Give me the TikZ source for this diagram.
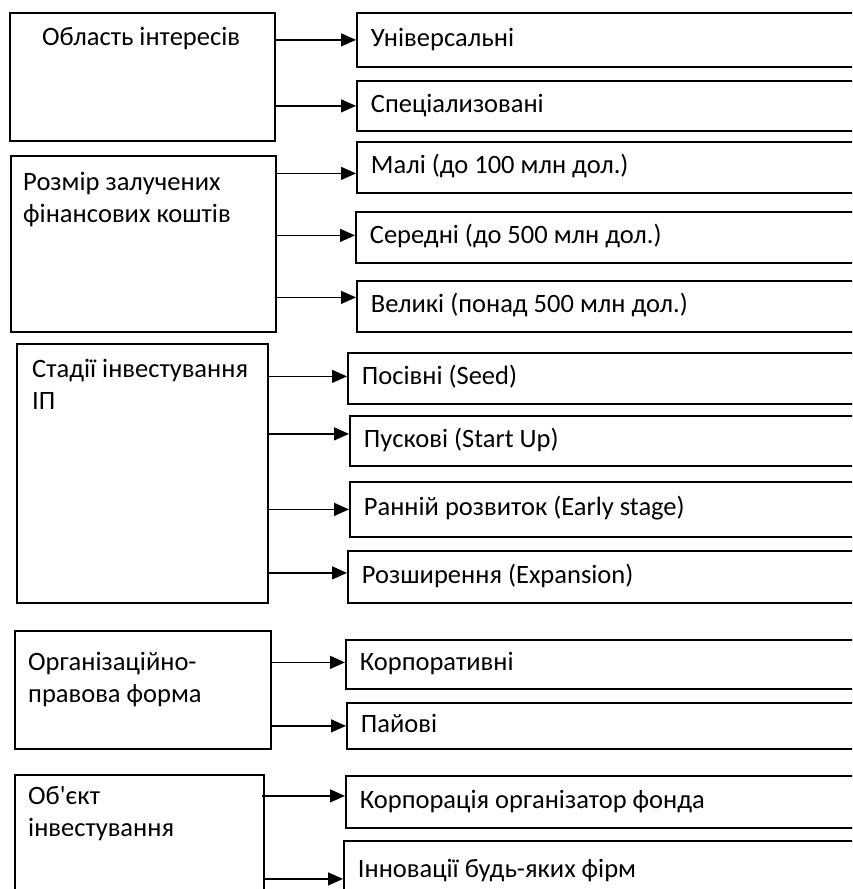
\documentclass[tikz,border=0pt]{standalone}
\usepackage{fontspec}
\setmainfont{Carlito}[Ligatures=TeXOff]
\usetikzlibrary{arrows.meta,positioning}

\tikzset{
  group/.style={draw,line width=1.8pt,anchor=north west,inner sep=0pt},
  grouptext/.style={anchor=base west,inner sep=0pt,align=flush left,font=\fontsize{26.5}{32}\selectfont},
  kind/.style={draw,line width=1.8pt,anchor=north west,text width=500pt,inner xsep=14pt,inner ysep=0pt,
    align=flush left,text height=18pt,text depth=5pt,font=\fontsize{26.5}{32}\selectfont},
  feed/.style={line width=1.2pt,-{Triangle[length=15pt,width=13pt]}},
}

\begin{document}
\begin{tikzpicture}[x=1pt,y=-1pt]
    \useasboundingbox (0,0) rectangle (852,889);
    \clip (0,0) rectangle (852,889);
    % область інтересів
    \node[group,minimum width=265,minimum height=128] (obl) at (9,12) {};
    \node[grouptext] (oblt) at (42,45) {Область інтересів};
    \node[kind,minimum height=54] (univ) at (356,12) {Універсальні};
    \node[kind,minimum height=50] (spec) at (356,80) {Спеціализовані};
    \draw[feed](obl.east |- univ.west)--(univ.west);
    \draw[feed](obl.east |- spec.west)--(spec.west);
    % розмір коштів
    \node[group,minimum width=265,minimum height=176] (rozm) at (10,155) {};
    \node[grouptext] (rozmt) at (23,222) {Розмір залучених\\фінансових коштів};
    \node[kind,minimum height=51] (mali) at (356,141) {Малі (до 100 млн дол.)};
    \node[kind,minimum height=51] (seri) at (355,211) {Середні (до 500 млн дол.)};
    \node[kind,minimum height=51] (vel) at (356,280) {Великі (понад 500 млн дол.)};
    \draw[feed]([yshift=-6pt]rozm.east |- mali.west)--([yshift=-6pt]mali.west);
    \draw[feed]([yshift=2pt]rozm.east |- seri.west)--([yshift=2pt]seri.west);
    \draw[feed]([yshift=9pt]rozm.east |- vel.west)--([yshift=9pt]vel.west);
    % стадії
    \node[group,minimum width=251,minimum height=259] (stad) at (16,343) {};
    \node[grouptext] (stadt) at (32,409) {Стадії інвестування\\ІП};
    \node[kind,minimum height=51] (seed) at (347,352) {Посівні (Seed)};
    \node[kind,minimum height=50] (start) at (349,415) {Пускові (Start Up)};
    \node[kind,minimum height=55] (early) at (349,481) {Ранній розвиток (Early stage)};
    \node[kind,minimum height=52] (expn) at (347,550) {Розширення (Expansion)};
    \draw[feed]([yshift=2pt]stad.east |- seed.west)--([yshift=2pt]seed.west);
    \draw[feed]([yshift=7pt]stad.east |- start.west)--([yshift=7pt]start.west);
    \draw[feed](stad.east |- early.west)--(early.west);
    \draw[feed]([yshift=4pt]stad.east |- expn.west)--([yshift=4pt]expn.west);
    % організаційно-правова форма
    \node[group,minimum width=256,minimum height=118] (orgf) at (14,630) {};
    \node[grouptext] (orgft) at (28,702) {Організаційно-\\правова форма};
    \node[kind,minimum height=49] (korp) at (345,639) {Корпоративні};
    \node[kind,minimum height=46] (pai) at (346,702) {Пайові};
    \draw[feed]([yshift=2pt]orgf.east |- korp.west)--([yshift=2pt]korp.west);
    \draw[feed](orgf.east |- pai.west)--(pai.west);
    % об'єкт
    \node[group,minimum width=249,minimum height=140] (obj) at (14,774) {};
    \node[grouptext] (objt) at (28,836) {Об'єкт\\інвестування};
    \node[kind,minimum height=52] (korg) at (345,775) {Корпорація організатор фонда};
    \node[kind,minimum height=60] (innov) at (343,840) {Інновації будь-яких фірм};
    \coordinate (objin) at ([xshift=-3pt]obj.east |- korg.west);
    \draw[feed]([yshift=6pt]objin)--([yshift=6pt]korg.west);
    \draw[feed]([yshift=-8pt]obj.east |- innov.west)--([yshift=-8pt]innov.west);
\end{tikzpicture}
\end{document}
